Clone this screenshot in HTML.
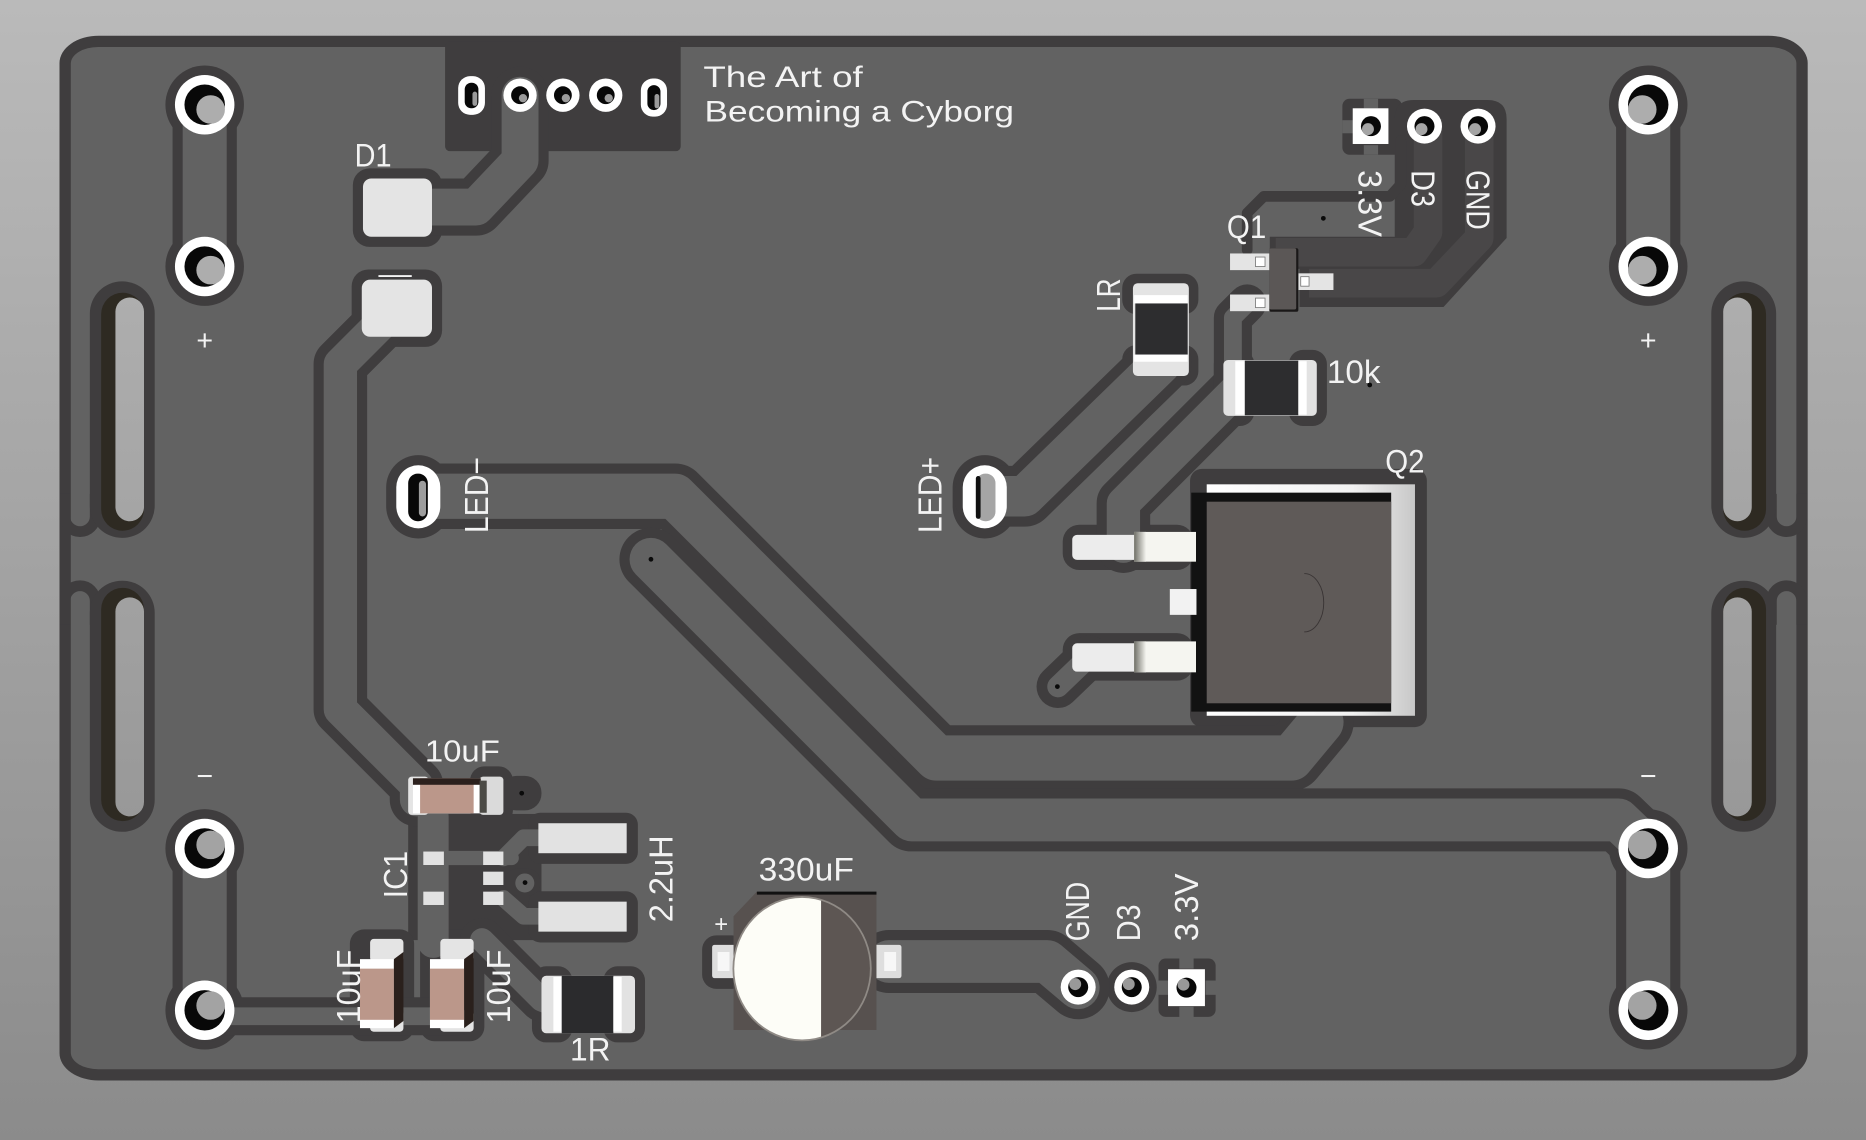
<!DOCTYPE html>
<html><head><meta charset="utf-8">
<style>
html,body{margin:0;padding:0;width:1866px;height:1140px;overflow:hidden;background:#a2a2a2}
svg{display:block}
text{font-family:"Liberation Sans",sans-serif;fill:#f3f3f3}
</style></head><body>
<svg width="1866" height="1140" viewBox="0 0 1568 958" preserveAspectRatio="none" xmlns="http://www.w3.org/2000/svg">
<defs>
<linearGradient id="bg" gradientUnits="userSpaceOnUse" x1="0" y1="0" x2="0" y2="958">
<stop offset="0" stop-color="#bababa"/><stop offset="1" stop-color="#8b8b8b"/>
</linearGradient>
<linearGradient id="bend" x1="0" y1="0" x2="1" y2="0">
<stop offset="0" stop-color="#6e6e66"/><stop offset="1" stop-color="#f4f4ef"/>
</linearGradient>
<linearGradient id="tabR" x1="0" y1="0" x2="1" y2="0">
<stop offset="0" stop-color="#ffffff"/><stop offset="0.7" stop-color="#f2f2f2"/><stop offset="1" stop-color="#c8c8c8"/>
</linearGradient>
<clipPath id="can"><ellipse cx="674" cy="814" rx="57" ry="59.5"/></clipPath>
</defs>
<rect width="1568" height="958" fill="url(#bg)"/>

<!-- board -->
<rect x="50" y="30" width="1469" height="878" rx="33" ry="23" fill="#3f3d3e"/>
<rect x="59.5" y="39.5" width="1450" height="859" rx="23" ry="14" fill="#626262"/>

<!-- dark areas / clearances -->
<g fill="#3f3d3e">
 <rect x="374" y="35" width="198" height="92" rx="4"/>
 <circle cx="172" cy="88" r="33"/><circle cx="172" cy="224" r="33"/>
 <circle cx="172" cy="713" r="33"/><circle cx="172" cy="849" r="33"/>
 <circle cx="1385" cy="88" r="33"/><circle cx="1385" cy="224" r="33"/>
 <circle cx="1385" cy="713" r="33"/><circle cx="1385" cy="849" r="33"/>
 <rect x="296.5" y="141.5" width="75" height="66" rx="14"/>
 <rect x="295.5" y="226.5" width="76" height="65" rx="14"/>
 <rect x="324.5" y="382.5" width="54" height="70" rx="27"/>
 <rect x="800.5" y="382.5" width="54" height="70" rx="27"/>
 <rect x="943" y="230" width="64" height="34" rx="12"/>
 <rect x="943" y="290" width="64" height="34" rx="12"/>
 <rect x="1020" y="294" width="34" height="64" rx="12"/>
 <rect x="1083" y="294" width="32" height="64" rx="12"/>
 <rect x="1000" y="394" width="199" height="217" rx="10"/>
 <rect x="893" y="441" width="110" height="38" rx="14"/>
 <rect x="893" y="532" width="110" height="40" rx="14"/>
 <rect x="335" y="644" width="34" height="49" rx="12"/>
 <rect x="395" y="644" width="36" height="49" rx="12"/>
 <rect x="420" y="652" width="35" height="29" rx="14"/>
 <rect x="343" y="684" width="112" height="106"/>
 <rect x="444" y="683" width="92" height="43" rx="10"/>
 <rect x="444" y="749" width="92" height="43" rx="10"/>
 <rect x="424" y="730" width="30" height="23" rx="11"/>
 <rect x="294" y="781" width="54" height="94" rx="12"/>
 <rect x="353" y="781" width="54" height="94" rx="12"/>
 <rect x="447" y="812" width="34" height="64" rx="12"/>
 <rect x="507" y="812" width="35" height="64" rx="12"/>
 <rect x="590" y="786" width="37" height="45" rx="12"/>
 <rect x="727" y="786" width="39" height="45" rx="12"/>
 <circle cx="906" cy="829.5" r="21"/>
 <circle cx="951" cy="829.5" r="21"/>
 <rect x="973.5" y="805.5" width="48" height="49" rx="6"/>
 <rect x="1128" y="83" width="50" height="47" rx="6"/>
 <path d="M1172,100 Q1172,84 1188,84 L1250,84 Q1266,84 1266,100 L1266,200 L1213,258 L1092,258 L1092,226 L1067,226 L1067,199 L1172,199 Z"/>
</g>

<!-- trace outlines -->
<g fill="none" stroke="#3f3d3e" stroke-linejoin="round" stroke-linecap="round">
 <path d="M437,80 L437,135 L400,174 L340,174" stroke-width="48"/>
 <path d="M330,262 L286,306 L286,596 L350,660 L350,672" stroke-width="45"/>
 <path d="M355,417 L567,417 L787,637 L1085,637 L1110,607" stroke-width="55"/>
 <path d="M547,470 L766,689 L1360,689 L1385,713" stroke-width="53"/>
 <path d="M976,305 L861,417 L827,417" stroke-width="51"/>
 <path d="M1037,330 L944,423 L944,459" stroke-width="45"/>
 <path d="M1048,255 L1036,267 L1036,330" stroke-width="32"/>
 <path d="M747,808 L880,808 L906,830" stroke-width="53"/>
 <path d="M172,854 L385,854" stroke-width="32"/>
 <path d="M172,88 L172,224 M172,713 L172,849 M1385,88 L1385,224 M1385,713 L1385,849" stroke-width="54"/>
 <path d="M915,552 L889,577" stroke-width="36"/>
 <path d="M405,790 L455,840 L465,844" stroke-width="37"/>
 <path d="M1177,118 L1177,155 L1168,165 L1062,165 L1048,179 L1048,210" stroke-width="9"/>
</g>

<!-- copper (gray) -->
<g fill="none" stroke="#626262" stroke-linejoin="round" stroke-linecap="round">
 <path d="M437,80 L437,135 L400,174 L340,174" stroke-width="31"/>
 <path d="M330,262 L286,306 L286,596 L350,660 L350,672" stroke-width="28"/>
 <path d="M355,417 L567,417 L787,637 L1085,637 L1110,607" stroke-width="38"/>
 <path d="M547,470 L766,689 L1360,689 L1385,713" stroke-width="36"/>
 <path d="M976,305 L861,417 L827,417" stroke-width="34"/>
 <path d="M1037,330 L944,423 L944,459" stroke-width="28"/>
 <path d="M1048,255 L1036,267 L1036,330" stroke-width="15"/>
 <path d="M747,808 L880,808 L906,830" stroke-width="36"/>
 <path d="M172,854 L385,854" stroke-width="15"/>
 <path d="M172,88 L172,224 M172,713 L172,849 M1385,88 L1385,224 M1385,713 L1385,849" stroke-width="37"/>
 <path d="M915,552 L889,577" stroke-width="18"/>
 <path d="M405,790 L455,840 L465,844" stroke-width="20"/>
 <path d="M364,686 L364,792" stroke-width="26"/>
 <path d="M372,721 L430,721" stroke-width="12"/>
 <path d="M423,721 L440,704 L455,704" stroke-width="14"/>
 <path d="M423,755 L440,770 L455,770" stroke-width="14"/>
</g>
<circle cx="441" cy="742" r="8" fill="#626262"/>

<!-- D3/GND traces inner tone -->
<g fill="none" stroke="#494748" stroke-linejoin="round">
 <path d="M1200,100 L1200,195 L1188,212 L1072,212" stroke-width="24"/>
 <path d="M1243,100 L1243,200 L1207,238 L1100,238" stroke-width="24"/>
</g>

<!-- thermal spokes -->
<g fill="#626262">
 <rect x="1128" y="101" width="9" height="11"/>
 <rect x="1146" y="83" width="12" height="8"/>
 <rect x="1146" y="122" width="12" height="8"/>
 <rect x="991" y="805" width="12" height="9"/>
 <rect x="991" y="846" width="12" height="9"/>
 <rect x="973" y="824" width="9" height="12"/>
 <rect x="1013" y="824" width="9" height="12"/>
</g>

<!-- slots -->
<g>
 <g fill="none" stroke="#3f3d3e" stroke-width="9">
  <path d="M54.5,415 V434 A12.75,12.75 0 0 0 80,434 V415"/>
  <path d="M54.5,525 V505 A12.75,12.75 0 0 1 80,505 V525"/>
  <path d="M1514,415 V434 A12.75,12.75 0 0 1 1488.5,434 V415"/>
  <path d="M1514,525 V505 A12.75,12.75 0 0 0 1488.5,505 V525"/>
 </g>
 <rect x="75.5" y="236.5" width="54.5" height="215.5" rx="27" fill="#3f3d3e"/>
 <rect x="85" y="246" width="36" height="200" rx="18" fill="#2e2a22"/>
 <rect x="97" y="250" width="24" height="188" rx="12" fill="url(#bg)"/>
 <rect x="75.5" y="488" width="54.5" height="211" rx="27" fill="#3f3d3e"/>
 <rect x="85" y="494" width="36" height="196" rx="18" fill="#2e2a22"/>
 <rect x="97" y="502" width="24" height="184" rx="12" fill="url(#bg)"/>
 <rect x="1438" y="236.5" width="54.5" height="215.5" rx="27" fill="#3f3d3e"/>
 <rect x="1448" y="246" width="36" height="200" rx="18" fill="#2e2a22"/>
 <rect x="1448" y="250" width="24" height="188" rx="12" fill="url(#bg)"/>
 <rect x="1438" y="488" width="54.5" height="211" rx="27" fill="#3f3d3e"/>
 <rect x="1448" y="494" width="36" height="196" rx="18" fill="#2e2a22"/>
 <rect x="1448" y="502" width="24" height="184" rx="12" fill="url(#bg)"/>
</g>

<!-- mounting holes -->
<g>
 <circle cx="172" cy="88" r="25" fill="#fff"/><circle cx="172" cy="88" r="17" fill="#080808"/><circle cx="177" cy="92" r="12" fill="#adadad"/>
 <circle cx="172" cy="224" r="25" fill="#fff"/><circle cx="172" cy="224" r="17" fill="#080808"/><circle cx="177" cy="227" r="12" fill="#adadad"/>
 <circle cx="172" cy="713" r="25" fill="#fff"/><circle cx="172" cy="713" r="17" fill="#080808"/><circle cx="177" cy="710" r="12" fill="#a3a3a3"/>
 <circle cx="172" cy="849" r="25" fill="#fff"/><circle cx="172" cy="849" r="17" fill="#080808"/><circle cx="177" cy="845" r="12" fill="#a3a3a3"/>
 <circle cx="1385" cy="88" r="25" fill="#fff"/><circle cx="1385" cy="88" r="17" fill="#080808"/><circle cx="1380" cy="92" r="12" fill="#adadad"/>
 <circle cx="1385" cy="224" r="25" fill="#fff"/><circle cx="1385" cy="224" r="17" fill="#080808"/><circle cx="1380" cy="227" r="12" fill="#adadad"/>
 <circle cx="1385" cy="713" r="25" fill="#fff"/><circle cx="1385" cy="713" r="17" fill="#080808"/><circle cx="1380" cy="710" r="12" fill="#a3a3a3"/>
 <circle cx="1385" cy="849" r="25" fill="#fff"/><circle cx="1385" cy="849" r="17" fill="#080808"/><circle cx="1380" cy="845" r="12" fill="#a3a3a3"/>
</g>

<!-- top connector pads -->
<g>
 <rect x="385" y="64" width="22.5" height="32.5" rx="10" fill="#fff"/>
 <rect x="390.5" y="69.5" width="11.5" height="21.5" rx="5.5" fill="#080808"/>
 <rect x="397" y="77" width="4" height="12" rx="2" fill="#9a9a9a"/>
 <circle cx="437" cy="80" r="14" fill="#fff"/><circle cx="437" cy="80" r="7.5" fill="#080808"/><circle cx="439.5" cy="82.5" r="3.5" fill="#9a9a9a"/>
 <circle cx="473" cy="80" r="14" fill="#fff"/><circle cx="473" cy="80" r="7.5" fill="#080808"/><circle cx="475.5" cy="82.5" r="3.5" fill="#9a9a9a"/>
 <circle cx="509" cy="80" r="14" fill="#fff"/><circle cx="509" cy="80" r="7.5" fill="#080808"/><circle cx="511.5" cy="82.5" r="3.5" fill="#9a9a9a"/>
 <rect x="538.5" y="66" width="22" height="32" rx="10" fill="#fff"/>
 <rect x="544" y="71.5" width="11" height="21" rx="5.5" fill="#080808"/>
 <rect x="550" y="79" width="4" height="12" rx="2" fill="#9a9a9a"/>
</g>

<!-- D1 -->
<rect x="305" y="150" width="58" height="49" rx="7" fill="#e4e4e4"/>
<rect x="304" y="235" width="59" height="48" rx="7" fill="#e4e4e4"/>
<line x1="318" y1="232" x2="346" y2="232" stroke="#f4f4f4" stroke-width="1.6"/>

<!-- LED pads -->
<rect x="333" y="391" width="37" height="53" rx="18.5" fill="#fff"/>
<rect x="343" y="398" width="16.5" height="40" rx="8" fill="#080808"/>
<rect x="352" y="404" width="6" height="30" rx="3" fill="#9d9d9d"/>
<rect x="809" y="391" width="37" height="53" rx="18.5" fill="#fff"/>
<rect x="820" y="398" width="16.5" height="40" rx="8" fill="#a5a5a5"/>
<rect x="820" y="400" width="4" height="36" rx="2" fill="#111"/>

<!-- LR -->
<rect x="952" y="238" width="47" height="78" rx="4" fill="#e4e4e4"/>
<rect x="953" y="248" width="45" height="7" fill="#ffffff"/>
<rect x="954" y="255" width="44" height="43" fill="#2d2d2f"/>
<rect x="953" y="298" width="45" height="6" fill="#ffffff"/>

<!-- 10k -->
<rect x="1028" y="302.5" width="78.5" height="47" rx="4" fill="#e2e2e2"/>
<rect x="1038" y="303.5" width="8" height="45" fill="#ffffff"/>
<rect x="1046" y="303" width="45" height="46" fill="#2d2d2f"/>
<rect x="1091" y="303.5" width="7" height="45" fill="#ffffff"/>

<!-- Q1 -->
<rect x="1033.6" y="213" width="33" height="14" fill="#e4e4e4"/>
<rect x="1033.6" y="247.5" width="33" height="14" fill="#e4e4e4"/>
<rect x="1091" y="229.7" width="29.5" height="14" fill="#e4e4e4"/>
<rect x="1055" y="216" width="8" height="8" fill="#fff" stroke="#777" stroke-width="0.7"/>
<rect x="1055" y="250.5" width="8" height="8" fill="#fff" stroke="#777" stroke-width="0.7"/>
<rect x="1093" y="232.5" width="7" height="8" fill="#fff" stroke="#777" stroke-width="0.7"/>
<rect x="1066.7" y="208.6" width="24.3" height="53.4" rx="1.5" fill="#1a1818"/>
<rect x="1066.7" y="208.6" width="22.5" height="51.5" rx="1.5" fill="#5b5756"/>

<!-- Q2 -->
<rect x="1014" y="407" width="175" height="194.5" fill="url(#tabR)"/>
<rect x="1001" y="414" width="168" height="184" fill="#121212"/>
<rect x="1014" y="421.6" width="155" height="169.4" fill="#5f5a58"/>
<path d="M1096,482 A16,24 0 0 1 1096,531" fill="none" stroke="#3a3535" stroke-width="0.8"/>
<rect x="901" y="449.5" width="56" height="21" rx="4" fill="#ececec"/>
<rect x="953" y="447" width="52" height="25" fill="#f5f5f0"/>
<rect x="953" y="447" width="10" height="25" fill="url(#bend)"/>
<rect x="983" y="495" width="22.4" height="21.7" fill="#f2f2f2"/>
<rect x="901" y="540.6" width="56" height="23.8" rx="4" fill="#ececec"/>
<rect x="953" y="539" width="52" height="26" fill="#f5f5f0"/>
<rect x="953" y="539" width="10" height="26" fill="url(#bend)"/>

<!-- top 10uF -->
<rect x="343" y="652.6" width="17" height="32.2" rx="3" fill="#e4e4e4"/>
<rect x="403" y="652.6" width="20" height="32.2" rx="3" fill="#dadada"/>
<rect x="347" y="654" width="57" height="29.5" fill="#ffffff"/>
<rect x="353" y="654" width="45" height="29.5" fill="#bb978a"/>
<rect x="347" y="654" width="57" height="5.5" fill="#2b201d"/>
<rect x="403" y="656" width="6" height="27" fill="#4b4a45"/>

<!-- IC1 pads -->
<g fill="#e2e2e2">
 <rect x="355.7" y="715.6" width="17.3" height="11.3"/>
 <rect x="355.7" y="749.3" width="17.3" height="11.2"/>
 <rect x="406" y="715.6" width="17" height="11.3"/>
 <rect x="406" y="732.5" width="17" height="11.2"/>
 <rect x="406" y="749.3" width="17" height="11.2"/>
 <rect x="452.4" y="691.8" width="74.2" height="25.2"/>
 <rect x="452.4" y="757.7" width="74.2" height="25.2"/>
</g>

<!-- bottom 10uF caps -->
<rect x="311" y="789" width="28" height="19" rx="3" fill="#e4e4e4"/>
<rect x="311" y="849" width="28" height="18" rx="3" fill="#e4e4e4"/>
<rect x="302.5" y="806" width="28.5" height="58" fill="#ffffff"/>
<rect x="302.5" y="814" width="28.5" height="43" fill="#bb978a"/>
<polygon points="331,806 339,800 339,858 331,864" fill="#2a201c"/>
<rect x="370" y="789" width="28" height="19" rx="3" fill="#e4e4e4"/>
<rect x="370" y="849" width="28" height="18" rx="3" fill="#e4e4e4"/>
<rect x="361.3" y="806" width="28.7" height="58" fill="#ffffff"/>
<rect x="361.3" y="814" width="28.7" height="43" fill="#bb978a"/>
<polygon points="390,806 398,800 398,858 390,864" fill="#2a201c"/>

<!-- 1R -->
<rect x="455" y="820" width="78.6" height="48.3" rx="4" fill="#e2e2e2"/>
<rect x="465" y="821" width="7" height="46" fill="#ffffff"/>
<rect x="472" y="820" width="43.4" height="48.3" fill="#2b2b2d"/>
<rect x="515.4" y="821" width="7" height="46" fill="#ffffff"/>

<!-- 330uF -->
<rect x="598.4" y="794" width="21" height="28" rx="2" fill="#dedede"/>
<rect x="603" y="800" width="10" height="16" fill="#f7f7f7"/>
<rect x="735" y="794" width="22.5" height="28" rx="2" fill="#dedede"/>
<rect x="743" y="800" width="10" height="16" fill="#f7f7f7"/>
<polygon points="636,749.3 736.5,749.3 736.5,865.6 616.4,865.6 616.4,770" fill="#57514f"/>
<line x1="636" y1="750.5" x2="736.5" y2="750.5" stroke="#111" stroke-width="2.5"/>
<ellipse cx="674" cy="814" rx="58.5" ry="61" fill="#8f8a85"/>
<g clip-path="url(#can)">
 <rect x="610" y="750" width="80" height="130" fill="#fdfdf7"/>
 <rect x="690" y="750" width="50" height="130" fill="#5d5653"/>
</g>

<!-- headers -->
<rect x="1136.7" y="91" width="30" height="30" fill="#fff"/>
<circle cx="1152" cy="106" r="8.4" fill="#080808"/><circle cx="1149.5" cy="108.5" r="5" fill="#a5a5a5"/>
<circle cx="1197" cy="106" r="14.7" fill="#fff"/><circle cx="1197" cy="106" r="8.4" fill="#080808"/><circle cx="1194.5" cy="108.5" r="5" fill="#a5a5a5"/>
<circle cx="1242" cy="106" r="14.7" fill="#fff"/><circle cx="1242" cy="106" r="8.4" fill="#080808"/><circle cx="1239.5" cy="108.5" r="5" fill="#a5a5a5"/>
<circle cx="906" cy="829.5" r="14.7" fill="#fff"/><circle cx="906" cy="829.5" r="8.4" fill="#080808"/><circle cx="903.5" cy="827" r="5" fill="#999"/>
<circle cx="951" cy="829.5" r="14.7" fill="#fff"/><circle cx="951" cy="829.5" r="8.4" fill="#080808"/><circle cx="948.5" cy="827" r="5" fill="#999"/>
<rect x="981.5" y="814.5" width="31" height="31" fill="#fff"/>
<circle cx="997" cy="830" r="8.4" fill="#080808"/><circle cx="994.5" cy="827.5" r="5" fill="#999"/>

<!-- vias -->
<g fill="#0a0a0a">
 <circle cx="547" cy="470" r="2"/>
 <circle cx="1112" cy="183.5" r="2"/>
 <circle cx="1151" cy="323.5" r="2"/>
 <circle cx="888.5" cy="577" r="2"/>
 <circle cx="438.4" cy="666.6" r="2"/>
 <circle cx="441.2" cy="741.7" r="2"/>
</g>

<!-- text -->
<text x="591" y="73" font-size="25" textLength="134" lengthAdjust="spacingAndGlyphs">The Art of</text>
<text x="592" y="102" font-size="25" textLength="260" lengthAdjust="spacingAndGlyphs">Becoming a Cyborg</text>
<text x="298" y="140" font-size="27" textLength="31" lengthAdjust="spacingAndGlyphs">D1</text>
<text x="1031" y="200" font-size="27" textLength="33" lengthAdjust="spacingAndGlyphs">Q1</text>
<text x="1115" y="322" font-size="27" textLength="45" lengthAdjust="spacingAndGlyphs">10k</text>
<text x="1164" y="397" font-size="27" textLength="33" lengthAdjust="spacingAndGlyphs">Q2</text>
<text x="357" y="640" font-size="26" textLength="63" lengthAdjust="spacingAndGlyphs">10uF</text>
<text x="479" y="891" font-size="27" textLength="34" lengthAdjust="spacingAndGlyphs">1R</text>
<text x="637.5" y="740" font-size="27" textLength="80" lengthAdjust="spacingAndGlyphs">330uF</text>
<text x="606" y="783" font-size="20" text-anchor="middle">+</text>
<text x="172" y="294" font-size="24" text-anchor="middle">+</text>
<text x="1385" y="294" font-size="24" text-anchor="middle">+</text>
<text x="172" y="660" font-size="24" text-anchor="middle">−</text>
<text x="1385" y="660" font-size="24" text-anchor="middle">−</text>
<text transform="translate(410,448) rotate(-90)" font-size="28" textLength="64" lengthAdjust="spacingAndGlyphs">LED−</text>
<text transform="translate(791,448) rotate(-90)" font-size="28" textLength="64" lengthAdjust="spacingAndGlyphs">LED+</text>
<text transform="translate(941,262) rotate(-90)" font-size="28" textLength="28" lengthAdjust="spacingAndGlyphs">LR</text>
<text transform="translate(342,755) rotate(-90)" font-size="28" textLength="40" lengthAdjust="spacingAndGlyphs">IC1</text>
<text transform="translate(565,775) rotate(-90)" font-size="28" textLength="73" lengthAdjust="spacingAndGlyphs">2.2uH</text>
<text transform="translate(302.5,860) rotate(-90)" font-size="28" textLength="62" lengthAdjust="spacingAndGlyphs">10uF</text>
<text transform="translate(428.5,860) rotate(-90)" font-size="28" textLength="62" lengthAdjust="spacingAndGlyphs">10uF</text>
<text transform="translate(915,791) rotate(-90)" font-size="28" textLength="50" lengthAdjust="spacingAndGlyphs">GND</text>
<text transform="translate(958,791) rotate(-90)" font-size="28" textLength="31" lengthAdjust="spacingAndGlyphs">D3</text>
<text transform="translate(1006.5,791) rotate(-90)" font-size="28" textLength="57" lengthAdjust="spacingAndGlyphs">3.3V</text>
<text transform="translate(1141.5,143) rotate(90)" font-size="28" textLength="56" lengthAdjust="spacingAndGlyphs">3.3V</text>
<text transform="translate(1186,143) rotate(90)" font-size="28" textLength="31" lengthAdjust="spacingAndGlyphs">D3</text>
<text transform="translate(1232.5,143) rotate(90)" font-size="28" textLength="50" lengthAdjust="spacingAndGlyphs">GND</text>
</svg>
</body></html>
